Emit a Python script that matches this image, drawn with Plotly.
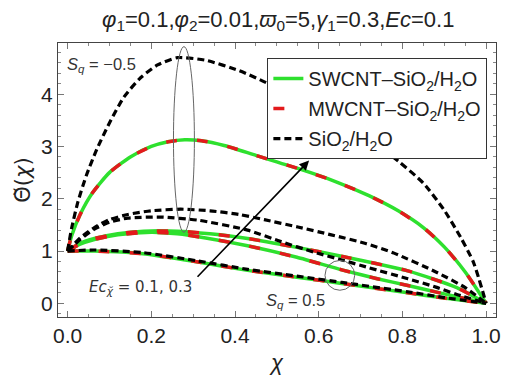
import plotly.graph_objects as go

# ---- data ----
# Hybrid nanofluid curves (SWCNT green solid, MWCNT red dashed overlaid)
hyb_sqm_ec3_x = [0, 0.01, 0.03, 0.06, 0.1, 0.15, 0.2, 0.24, 0.28, 0.32, 0.374, 0.45, 0.55, 0.64, 0.72, 0.79, 0.85, 0.9, 0.95, 1.0]
hyb_sqm_ec3_y = [1, 1.3, 1.7, 2.12, 2.5, 2.8, 3.0, 3.09, 3.13, 3.11, 3.02, 2.83, 2.58, 2.33, 2.06, 1.77, 1.45, 1.08, 0.6, 0]

hyb_sqm_ec1_x = [0, 0.03, 0.064, 0.12, 0.182, 0.262, 0.34, 0.43, 0.548, 0.66, 0.813, 0.93, 1.0]
hyb_sqm_ec1_y = [1, 1.15, 1.24, 1.33, 1.38, 1.38, 1.33, 1.24, 1.07, 0.89, 0.62, 0.3, 0]

hyb_sqp_ec3_x = [0, 0.03, 0.064, 0.12, 0.2, 0.262, 0.33, 0.43, 0.548, 0.655, 0.74, 0.813, 0.9, 1.0]
hyb_sqp_ec3_y = [1, 1.13, 1.22, 1.31, 1.36, 1.33, 1.25, 1.1, 0.88, 0.64, 0.47, 0.34, 0.18, 0]

hyb_sqp_ec1_x = [0, 0.064, 0.18, 0.312, 0.43, 0.548, 0.655, 0.813, 0.9, 1.0]
hyb_sqp_ec1_y = [1, 1.0, 0.95, 0.79, 0.63, 0.5, 0.38, 0.2, 0.1, 0]

# SiO2/H2O curves (black dashed)
sio_sqm_ec3_x = [0, 0.01, 0.025, 0.045, 0.07, 0.1, 0.135, 0.175, 0.215, 0.262, 0.33, 0.41, 0.475, 0.55, 0.63, 0.71, 0.79, 0.85, 0.9, 0.94, 0.97, 1.0]
sio_sqm_ec3_y = [1, 1.45, 1.95, 2.45, 2.95, 3.45, 3.95, 4.32, 4.56, 4.70, 4.65, 4.45, 4.22, 3.9, 3.56, 3.2, 2.72, 2.3, 1.78, 1.25, 0.78, 0]

sio_sqm_ec1_x = [0, 0.03, 0.064, 0.1, 0.144, 0.2, 0.27, 0.34, 0.41, 0.47, 0.55, 0.63, 0.714, 0.78, 0.88, 0.95, 1.0]
sio_sqm_ec1_y = [1, 1.25, 1.45, 1.6, 1.7, 1.77, 1.8, 1.77, 1.7, 1.6, 1.46, 1.31, 1.14, 0.96, 0.6, 0.3, 0]

sio_sqp_ec3_x = [0, 0.03, 0.064, 0.1, 0.144, 0.222, 0.312, 0.43, 0.51, 0.588, 0.655, 0.72, 0.813, 0.88, 0.93, 1.0]
sio_sqp_ec3_y = [1, 1.22, 1.42, 1.55, 1.63, 1.65, 1.59, 1.4, 1.18, 0.98, 0.83, 0.68, 0.47, 0.31, 0.17, 0]

sio_sqp_ec1_x = [0, 0.064, 0.18, 0.312, 0.43, 0.548, 0.655, 0.813, 0.9, 1.0]
sio_sqp_ec1_y = [1, 1.02, 0.97, 0.81, 0.65, 0.52, 0.4, 0.22, 0.11, 0]

x_ticks = [0.0, 0.2, 0.4, 0.6, 0.8, 1.0]
x_tick_labels = ["0.0", "0.2", "0.4", "0.6", "0.8", "1.0"]
y_ticks = [0, 1, 2, 3, 4]

GREEN = "#2EE02E"
RED = "#E31A1C"
BLACK = "#000000"
FONT = "Liberation Sans, Arial, sans-serif"
SM = 0.6

fig = go.Figure()

hyb = [(hyb_sqm_ec3_x, hyb_sqm_ec3_y), (hyb_sqm_ec1_x, hyb_sqm_ec1_y),
       (hyb_sqp_ec3_x, hyb_sqp_ec3_y), (hyb_sqp_ec1_x, hyb_sqp_ec1_y)]
sio = [(sio_sqm_ec3_x, sio_sqm_ec3_y), (sio_sqm_ec1_x, sio_sqm_ec1_y),
       (sio_sqp_ec3_x, sio_sqp_ec3_y), (sio_sqp_ec1_x, sio_sqp_ec1_y)]

for i, (xs, ys) in enumerate(hyb):
    fig.add_trace(go.Scatter(x=xs, y=ys, mode="lines",
                             line=dict(color=GREEN, width=3.5, shape="spline", smoothing=SM),
                             name="SWCNT–SiO<sub>2</sub>/H<sub>2</sub>O",
                             legendgroup="g1", showlegend=(i == 0)))
for i, (xs, ys) in enumerate(hyb):
    fig.add_trace(go.Scatter(x=xs, y=ys, mode="lines",
                             line=dict(color=RED, width=3.5, dash="11px,20px", shape="spline", smoothing=SM),
                             name="MWCNT–SiO<sub>2</sub>/H<sub>2</sub>O",
                             legendgroup="g2", showlegend=(i == 0)))
for i, (xs, ys) in enumerate(sio):
    fig.add_trace(go.Scatter(x=xs, y=ys, mode="lines",
                             line=dict(color=BLACK, width=3.2, dash="7px,4px", shape="spline", smoothing=SM),
                             name="SiO<sub>2</sub>/H<sub>2</sub>O",
                             legendgroup="g3", showlegend=(i == 0)))

# ellipses
fig.add_shape(type="circle", xref="x", yref="y", x0=0.253, x1=0.303, y0=1.36, y1=4.91,
              line=dict(color="#666666", width=1))
fig.add_shape(type="circle", xref="x", yref="y", x0=0.615, x1=0.686, y0=0.25, y1=0.82,
              line=dict(color="#666666", width=1))

# arrow
fig.add_annotation(x=0.577, y=2.73, ax=0.307, ay=0.48, xref="x", yref="y", axref="x", ayref="y",
                   showarrow=True, arrowhead=2, arrowsize=1.2, arrowwidth=1.6, arrowcolor="black", text="")

ann_font = dict(family=FONT, size=16.5, color="#333333")
fig.add_annotation(x=0.08, y=4.56, xref="x", yref="y", showarrow=False,
                   text="<i>S</i><sub><i>q</i></sub> = −0.5", font=ann_font)
fig.add_annotation(x=0.175, y=0.31, xref="x", yref="y", showarrow=False,
                   text="<i>Ec</i><sub><i>χ̆</i></sub> = 0.1, 0.3", font=dict(family="DejaVu Sans", size=15, color="#333333"))
fig.add_annotation(x=0.545, y=0.04, xref="x", yref="y", showarrow=False,
                   text="<i>S</i><sub><i>q</i></sub> = 0.5", font=ann_font)

axis_common = dict(showline=True, mirror="allticks", linecolor="#444444", linewidth=1.4,
                   ticks="inside", ticklen=6, tickcolor="#777777", showgrid=False, zeroline=False,
                   ticklabeloverflow="allow",
                   tickfont=dict(family=FONT, size=21, color="#222222"))

fig.update_xaxes(range=[-0.0229, 1.0236], tickvals=x_ticks, ticktext=x_tick_labels,
                 minor=dict(ticks="inside", ticklen=3, dtick=0.05, tickcolor="#888888", showgrid=False),
                 title=dict(text="<i>χ</i>", font=dict(family=FONT, size=22, color="#222222"), standoff=8),
                 **axis_common)
fig.update_yaxes(range=[-0.262, 4.98], tickvals=y_ticks,
                 minor=dict(ticks="inside", ticklen=3, dtick=0.2, tickcolor="#888888", showgrid=False),
                 title=dict(text="Θ̆(<i>χ</i>)", font=dict(family="DejaVu Sans", size=21, color="#222222"), standoff=4),
                 **axis_common)

fig.update_layout(
    width=505, height=376,
    margin=dict(l=58, r=4, t=43, b=59),
    plot_bgcolor="white", paper_bgcolor="white",
    title=dict(text="<i>φ</i><sub>1</sub>=0.1,<i>φ</i><sub>2</sub>=0.01,<i>ϖ</i><sub>0</sub>=5,<i>γ</i><sub>1</sub>=0.3,<i>Ec</i>=0.1",
               x=0.551, xanchor="center", y=0.95, yanchor="middle",
               font=dict(family=FONT, size=22, color="#222222")),
    legend=dict(x=0.478, y=0.945, xanchor="left", yanchor="top",
                bgcolor="white", bordercolor="#333333", borderwidth=1,
                font=dict(family=FONT, size=20, color="#222222"),
                tracegroupgap=1),
    showlegend=True,
)

fig.write_html("out.html")
